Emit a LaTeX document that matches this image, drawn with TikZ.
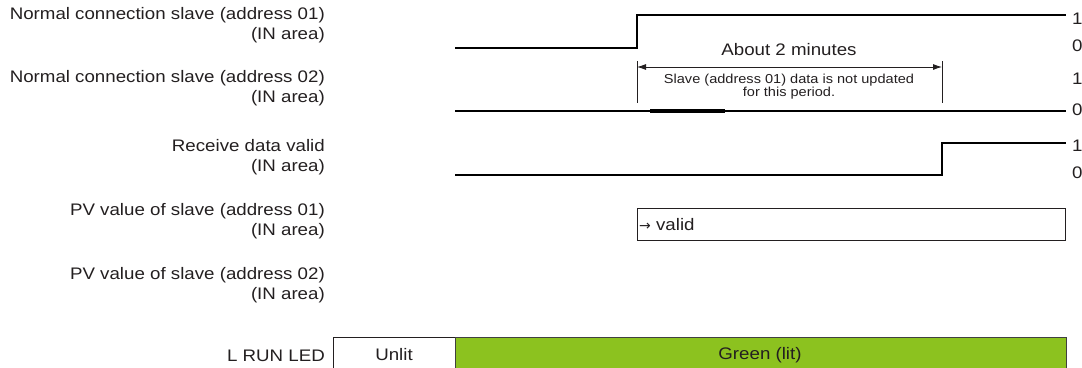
\documentclass[tikz,border=0pt]{standalone}
\usepackage{fontspec}
\setmainfont{Liberation Sans}
\newfontfamily\arrowfont{DejaVu Sans}
\usetikzlibrary{arrows.meta}
\definecolor{ink}{HTML}{231F20}
\definecolor{ledgreen}{HTML}{8CC21F}
\newcommand\hs[1]{\scalebox{1.12}[1]{#1}}
\begin{document}
\begin{tikzpicture}[x=1pt,y=-1pt,
  lbl/.style={anchor=east, inner sep=0pt, text=ink, align=right, font=\fontsize{16.7}{20}\selectfont},
  lvl/.style={anchor=west, inner sep=0pt, text=ink, font=\fontsize{16.7}{20}\selectfont},
  sig/.style={line width=2.9pt, line join=miter, color=black},
  dimtick/.style={line width=0.8pt, color=ink},
  dimline/.style={line width=0.8pt, color=ink, {Latex[length=9pt,width=6pt]}-{Latex[length=9pt,width=6pt]}},
  small/.style={inner sep=0pt, text=ink, align=center, font=\fontsize{13}{13.5}\selectfont},
  big/.style={inner sep=0pt, text=ink, font=\fontsize{16.7}{20}\selectfont},
  valbox/.style={draw=ink, line width=0.8pt},
  ledoff/.style={draw=ink, line width=0.8pt, fill=white},
  ledon/.style={draw=black!75, line width=0.8pt, fill=ledgreen},
]
\useasboundingbox (0,0) rectangle (1082,367);

% left labels
\node[lbl] (l1) at (325,25.5) {\hs{Normal connection slave (address 01)}\\\hs{(IN area)}};
\node[lbl] (l2) at (325,88.5) {\hs{Normal connection slave (address 02)}\\\hs{(IN area)}};
\node[lbl] (l3) at (325,157.5) {\hs{Receive data valid}\\\hs{(IN area)}};
\node[lbl] (l4) at (325,221.5) {\hs{PV value of slave (address 01)}\\\hs{(IN area)}};
\node[lbl] (l5) at (325,285) {\hs{PV value of slave (address 02)}\\\hs{(IN area)}};
\node[lbl] (l6) at (325,355.5) {\hs{L RUN LED}};

% waveform points
\coordinate (a0) at (455,48);
\coordinate (a1) at (637,48);
\coordinate (a2) at (637,15);
\coordinate (a3) at (1066,15);
\coordinate (b0) at (455,111);
\coordinate (b1) at (1066,111);
\coordinate (bt0) at (650,111);
\coordinate (bt1) at (725,111);
\coordinate (c0) at (455,175);
\coordinate (c1) at (942,175);
\coordinate (c2) at (942,143);
\coordinate (c3) at (1066,143);

\draw[sig] (a0) -- (a1) -- (a2) -- (a3);
\draw[sig] (b0) -- (b1);
\draw[line width=3.5pt] (bt0) -- (bt1);
\draw[sig] (c0) -- (c1) -- (c2) -- (c3);

% level labels
\node[lvl] (h1) at (1072,19) {\hs{1}};
\node[lvl] (z1) at (1072,46) {\hs{0}};
\node[lvl] (h2) at (1072,79) {\hs{1}};
\node[lvl] (z2) at (1072,110) {\hs{0}};
\node[lvl] (h3) at (1072,146) {\hs{1}};
\node[lvl] (z3) at (1072,173) {\hs{0}};

% dimension
\coordinate (d0t) at (637,61);
\coordinate (d0b) at (637,103);
\coordinate (d1t) at (942,61);
\coordinate (d1b) at (942,103);
\coordinate (d0) at (637,67);
\coordinate (d1) at (942,67);
\draw[dimtick] (d0t) -- (d0b);
\draw[dimtick] (d1t) -- (d1b);
\draw[dimline] (d0) -- (d1);
\node[big] (t2min) at (789,50) {\hs{About 2 minutes}};
\node[small] (tslave) at (789,86.5) {\hs{Slave (address 01) data is not updated}\\\hs{for this period.}};

% PV box
\node[valbox, anchor=north west, minimum width=428pt, minimum height=32pt, inner sep=0pt] (pv) at (637,208) {};
\node[lvl, anchor=west] (pvt) at (639,224.5) {{\arrowfont\fontsize{14}{14}\selectfont →}\hs{ valid}};

% LED
\node[ledoff, anchor=north west, minimum width=122pt, minimum height=40pt, inner sep=0pt] (unlit) at (333,337) {};
\node[ledon, anchor=north west, minimum width=611pt, minimum height=40pt, inner sep=0pt] (green) at (455,337) {};
\node[big] (unlitt) at (394,355) {\hs{Unlit}};
\node[big] (greent) at (760,355) {\hs{Green (lit)}};
\end{tikzpicture}
\end{document}
